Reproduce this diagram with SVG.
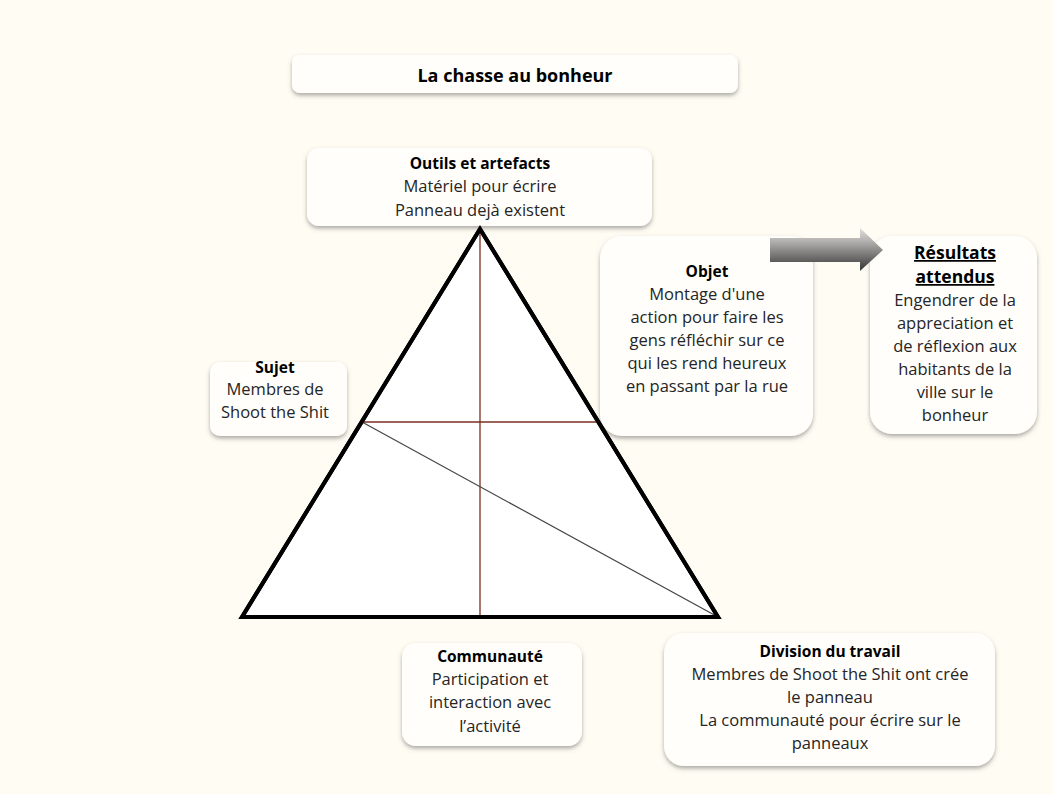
<svg xmlns="http://www.w3.org/2000/svg" width="1053" height="794" viewBox="0 0 1053 794">
<defs>
<filter id="sh" x="-10%" y="-10%" width="120%" height="130%">
<feDropShadow dx="0" dy="2.5" stdDeviation="2" flood-color="#555" flood-opacity="0.5"/>
</filter>
<linearGradient id="ag" x1="0" y1="0" x2="0" y2="1">
<stop offset="0" stop-color="#e2e0de"/>
<stop offset="0.3" stop-color="#b4b2b0"/>
<stop offset="1" stop-color="#353535"/>
</linearGradient>
<style>
.box{fill:#fffefb;filter:url(#sh);}
.t{font-family:"Open Sans","Liberation Sans",sans-serif;font-size:16.5px;fill:#252525;text-anchor:middle;}
.h{font-weight:bold;fill:#000;font-size:15.5px;}
.tri{fill:#fff;stroke:#000;stroke-width:4;stroke-linejoin:miter;}
.ln{stroke:#7a2e1e;stroke-width:1.3;fill:none;}
</style>
</defs>
<rect width="1053" height="794" fill="#fffdf3"/>

<g id="title">
<rect class="box" x="292" y="55" width="446" height="38" rx="8"/>
<text class="t h" x="515" y="82" style="font-size:18px">La chasse au bonheur</text>
</g>

<g id="outils">
<rect class="box" x="307" y="148" width="345" height="78" rx="12"/>
<text class="t h" x="480" y="169">Outils et artefacts</text>
<text class="t" x="480" y="192">Matériel pour écrire</text>
<text class="t" x="480" y="216">Panneau dejà existent</text>
</g>

<g id="objet">
<rect class="box" x="600" y="236" width="213" height="200" rx="22"/>
<text class="t h" x="707" y="277">Objet</text>
<text class="t" x="707" y="300">Montage d'une</text>
<text class="t" x="707" y="323">action pour faire les</text>
<text class="t" x="707" y="346">gens réfléchir sur ce</text>
<text class="t" x="707" y="369">qui les rend heureux</text>
<text class="t" x="707" y="392">en passant par la rue</text>
</g>

<g id="resultats">
<rect class="box" x="870" y="236" width="167" height="198" rx="22"/>
<text class="t h" x="955" y="259" style="font-size:17.5px;text-decoration:underline">Résultats</text>
<text class="t h" x="955" y="283" style="font-size:17.5px;text-decoration:underline">attendus</text>
<text class="t" x="955" y="306">Engendrer de la</text>
<text class="t" x="955" y="329">appreciation et</text>
<text class="t" x="955" y="352">de réflexion aux</text>
<text class="t" x="955" y="375">habitants de la</text>
<text class="t" x="955" y="398">ville sur le</text>
<text class="t" x="955" y="421">bonheur</text>
</g>

<g id="sujet">
<rect class="box" x="210" y="362" width="137" height="74" rx="10"/>
<text class="t h" x="275" y="373">Sujet</text>
<text class="t" x="275" y="395">Membres de</text>
<text class="t" x="275" y="418">Shoot the Shit</text>
</g>

<g id="communaute">
<rect class="box" x="402" y="643" width="180" height="103" rx="14"/>
<text class="t h" x="490" y="662">Communauté</text>
<text class="t" x="490" y="685">Participation et</text>
<text class="t" x="490" y="708">interaction avec</text>
<text class="t" x="490" y="732">l’activité</text>
</g>

<g id="division">
<rect class="box" x="664" y="633" width="331" height="133" rx="20"/>
<text class="t h" x="830" y="657">Division  du travail</text>
<text class="t" x="830" y="680">Membres de Shoot the Shit ont crée</text>
<text class="t" x="830" y="703">le panneau</text>
<text class="t" x="830" y="726">La communauté pour écrire sur le</text>
<text class="t" x="830" y="749">panneaux</text>
</g>

<g id="triangle">
<polygon class="tri" points="480,229 242,617 718,617"/>
</g>

<g id="connectors">
<line class="ln" x1="480" y1="229" x2="480" y2="617"/>
<line class="ln" x1="362" y1="422" x2="597" y2="422"/>
<line x1="362" y1="422" x2="718" y2="617" stroke="#444" stroke-width="1.2"/>
<polygon points="480,229 242,617 718,617" fill="none" stroke="#000" stroke-width="4"/>
<path d="M770,238 L860,238 L860,228 L883,250 L860,271 L860,262 L770,262 Z" fill="url(#ag)"/>
</g>
</svg>
